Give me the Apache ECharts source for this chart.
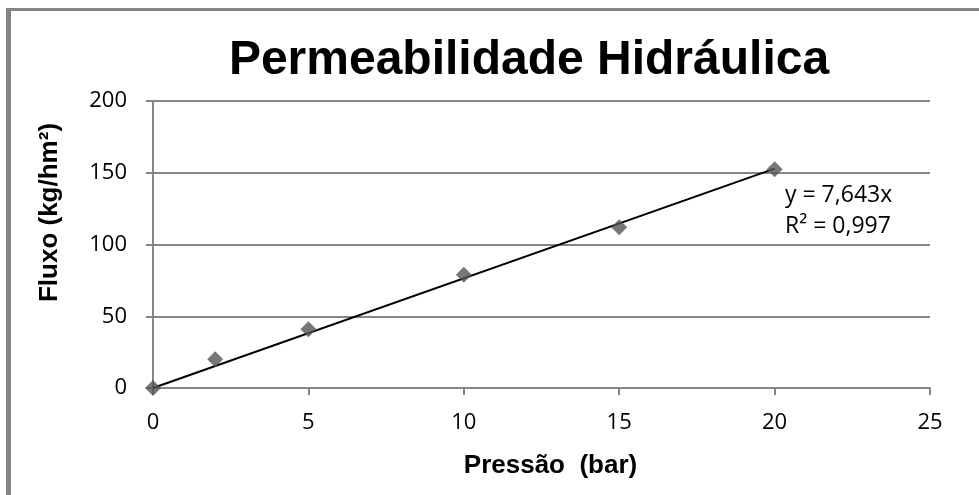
<!DOCTYPE html>
<html>
<head>
<meta charset="utf-8">
<script src="https://cdn.jsdelivr.net/npm/echarts@6/dist/echarts.min.js"></script>
<style>
html,body{margin:0;padding:0;background:#fff;}
#chart{width:979px;height:495px;}
</style>
</head>
<body>
<div id="chart"></div>
<script>
var pressao = [0, 2, 5, 10, 15, 20];
var fluxo = [0, 20, 41, 79, 112, 152.5];
var trendX = [0, 20];
var trendY = [0, 152.86];
var xTicks = [0, 5, 10, 15, 20, 25];
var yTicks = [0, 50, 100, 150, 200];
var equationLines = ['y = 7,643x', 'R² = 0,997'];

var chart = echarts.init(document.getElementById('chart'));
var pts = pressao.map(function (x, i) { return [x, fluxo[i]]; });
var trend = trendX.map(function (x, i) { return [x, trendY[i]]; });
var labelFont = '"Open Sans", "Noto Sans", sans-serif';
var boldFont = 'Liberation Sans, Arial, sans-serif';
chart.setOption({
  animation: false,
  backgroundColor: '#fff',
  title: {
    text: 'Permeabilidade Hidráulica',
    left: 524, top: 32, textAlign: 'center',
    textStyle: { fontFamily: boldFont, fontWeight: 'bold', fontSize: 48, color: '#000' }
  },
  grid: { left: 153, right: 49, top: 101, bottom: 107 },
  xAxis: {
    type: 'value', min: xTicks[0], max: xTicks[xTicks.length - 1], interval: 5,
    name: 'Pressão  (bar)', nameLocation: 'middle', nameGap: 65,
    nameTextStyle: { fontFamily: boldFont, fontWeight: 'bold', fontSize: 26, color: '#000', padding: [0, 0, 0, 18] },
    axisLine: { show: true, lineStyle: { color: '#868686', width: 2 } },
    axisTick: { show: true, inside: false, length: 7, lineStyle: { color: '#868686', width: 2 } },
    axisLabel: { margin: 24, fontFamily: labelFont, fontSize: 22, color: '#000' },
    splitLine: { show: false }
  },
  yAxis: {
    type: 'value', min: yTicks[0], max: yTicks[yTicks.length - 1], interval: 50,
    name: 'Fluxo (kg/hm²)', nameLocation: 'middle', nameGap: 90, nameRotate: 90,
    nameTextStyle: { fontFamily: boldFont, fontWeight: 'bold', fontSize: 26, color: '#000', padding: [0, 0, 0, 64] },
    axisLine: { show: true, lineStyle: { color: '#868686', width: 2 } },
    axisTick: { show: true, inside: false, length: 7, lineStyle: { color: '#868686', width: 2 } },
    axisLabel: { margin: 26, fontFamily: labelFont, fontSize: 22, color: '#000' },
    splitLine: { show: true, lineStyle: { color: '#868686', width: 2 } }
  },
  graphic: [
    { type: 'rect', shape: { x: 6, y: 8, width: 5, height: 487 }, style: { fill: '#848484' }, z: 100 },
    { type: 'rect', shape: { x: 6, y: 8, width: 973, height: 3 }, style: { fill: '#848484' }, z: 100 },
    { type: 'text', left: 785, top: 180, style: { text: equationLines.join('\n'), fontFamily: labelFont, fontSize: 23, lineHeight: 31, fill: '#000' }, z: 100 }
  ],
  series: [
    {
      type: 'line', data: trend, showSymbol: false, symbol: 'none',
      lineStyle: { color: '#000', width: 2 }, z: 2
    },
    {
      type: 'scatter', data: pts, symbol: 'diamond', symbolSize: 16,
      itemStyle: { color: '#555555' }, z: 3
    }
  ]
});
</script>
</body>
</html>
